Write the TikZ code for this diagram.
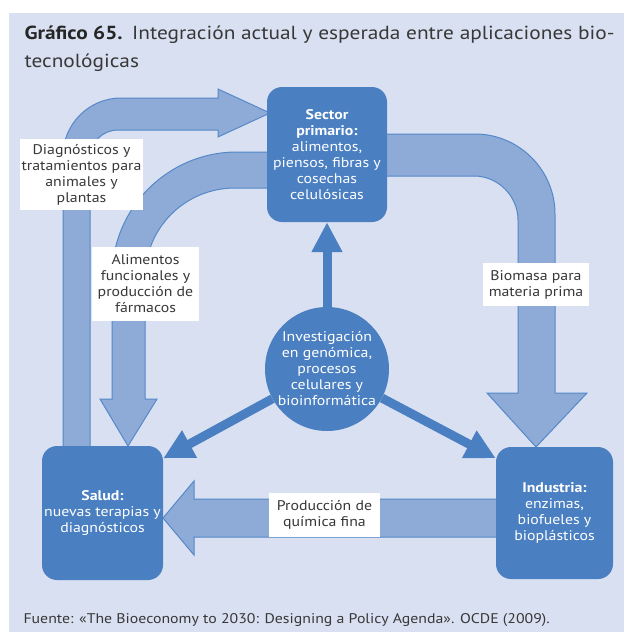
\documentclass[tikz,border=0pt]{standalone}
\usepackage{tikz}
\usepackage{xcolor}
\usepackage{fontspec}
\setmainfont{PT Sans}[FakeStretch=1.13]
\usetikzlibrary{arrows.meta}
\definecolor{panelblue}{HTML}{D9E0F1}
\definecolor{boxblue}{HTML}{4A7FC1}
\definecolor{flowblue}{HTML}{8EABD8}
\definecolor{flowedge}{HTML}{5588C8}
\definecolor{inkgray}{HTML}{383838}
\tikzset{
        txt_14/.style={font=\fontsize{14pt}{16pt}\selectfont},
        sect_box/.style={txt_14, rounded corners=15pt, fill=boxblue, text=white,
                         align=center, inner sep=0pt},
        core_node/.style={txt_14, circle, fill=boxblue, text=white, align=center,
                          inner sep=0pt, minimum size=124pt},
        lab_box/.style={txt_14, fill=white, text=inkgray, align=center, inner sep=0pt},
        flow/.style={fill=flowblue, draw=flowedge, line width=1pt},
        push_arrow/.style={draw=boxblue, line width=9pt,
                           -{Triangle[length=30pt,width=29pt]}}
    }

\begin{document}
\begin{tikzpicture}[x=1pt, y=-1pt]
    \useasboundingbox (0,0) rectangle (624,632);
    \fill[white] (0,0) rectangle (624,632);
    \fill[panelblue] (9,13) rectangle (624,632);

    \node[anchor=base west, text=inkgray, font=\fontsize{18.9pt}{28pt}\selectfont] (title) at (21,39.5)
        {\textcolor{black!85}{\textbf{Gráfico 65.}}\hspace{0.5em}Integración actual y esperada entre aplicaciones bio-};
    \node[anchor=base west, text=inkgray, font=\fontsize{18.9pt}{28pt}\selectfont] (title2) at (21,67) {tecnológicas};

    % big flows go first, boxes sit on top of them
    \draw[flow] (63,452) -- (63,156) .. controls (63,124) and (89,98) .. (121,98)
        -- (218,98) -- (218,89) -- (270,113) -- (218,137) -- (218,130)
        -- (118,130) .. controls (102.5,130) and (90,142.5) .. (90,158) -- (90,452) -- cycle;
    \draw[flow] (275,152) -- (237,152) .. controls (168,152) and (112,208) .. (112,277)
        -- (112,399) -- (100,399) -- (128,446) -- (157,399) -- (145,399)
        -- (145,278) .. controls (145,228) and (185,188) .. (235,188) -- (275,188) -- cycle;
    \draw[flow] (380,134) -- (475,134) .. controls (519,134) and (555,170) .. (555,214)
        -- (555,393) -- (587,393) -- (536,447) -- (487,393) -- (518,393)
        -- (518,220) .. controls (518,196) and (498,176) .. (474,176) -- (380,176) -- cycle;
    \draw[flow] (500,499) -- (194,499) -- (194,481) -- (163,518) -- (194,555)
        -- (194,537) -- (500,537) -- cycle;

    \node[sect_box, minimum width=120pt, minimum height=135pt] (sector) at (327,154.5)
        {\textbf{Sector}\\\textbf{primario:}\\alimentos,\\piensos, fibras y\\cosechas\\celulósicas};
    \node[sect_box, minimum width=121pt, minimum height=134pt] (salud) at (102.5,513)
        {\textbf{Salud:}\\nuevas terapias y\\diagnósticos};
    \node[sect_box, minimum width=117pt, minimum height=132pt] (industria) at (554.5,513)
        {\textbf{Industria:}\\enzimas,\\biofueles y\\bioplásticos};
    \node[core_node] (invest) at (327,369)
        {Investigación\\en genómica,\\procesos\\celulares y\\bioinformática};

    \draw[push_arrow] (invest) -- (sector.south);
    \draw[push_arrow] (invest) -- (salud.42);
    \draw[push_arrow] (invest) -- (industria.137);

    \node[lab_box, minimum width=123pt, minimum height=71pt] (lab_diag) at (81.5,174.5)
        {Diagnósticos y\\tratamientos para\\animales y\\plantas};
    \node[lab_box, minimum width=107pt, minimum height=74pt] (lab_alim) at (145.5,284)
        {Alimentos\\funcionales y\\producción de\\fármacos};
    \node[lab_box, minimum width=106pt, minimum height=43pt] (lab_biom) at (536,284.5)
        {Biomasa para\\materia prima};
    \node[lab_box, minimum width=111pt, minimum height=44pt] (lab_prod) at (324.5,515)
        {Producción de\\química fina};

    \node[anchor=base west, txt_14, text=inkgray] (source) at (20,623)
        {Fuente: «The Bioeconomy to 2030: Designing a Policy Agenda». OCDE (2009).};
\end{tikzpicture}
\end{document}
